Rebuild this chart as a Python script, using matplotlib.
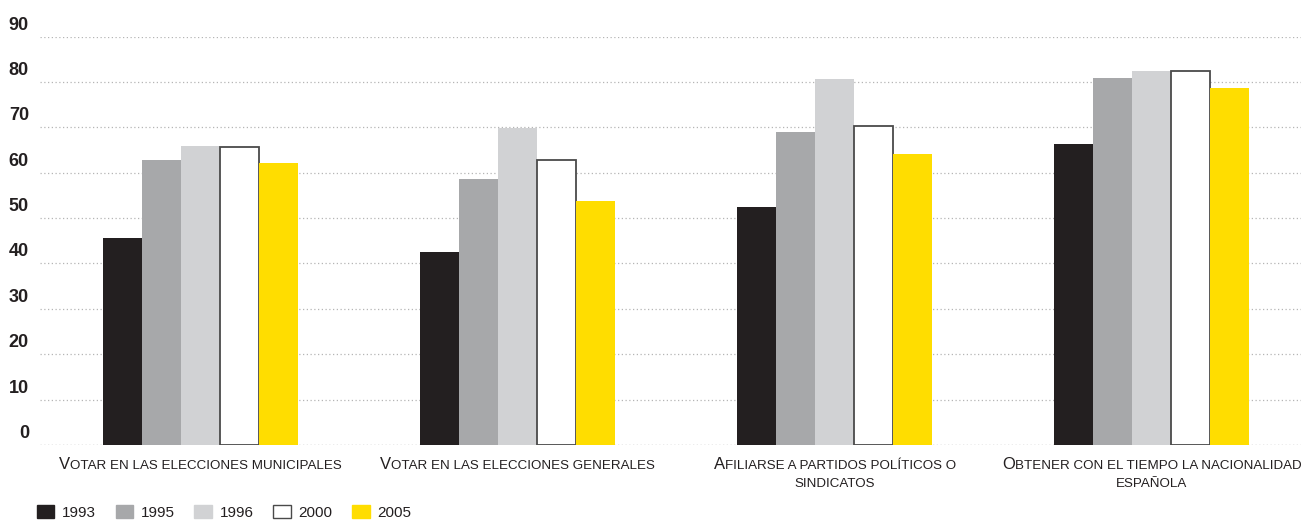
import matplotlib.pyplot as plt
from matplotlib.patches import Patch
from matplotlib.transforms import ScaledTranslation
import numpy as np

plt.rcParams['font.family'] = ['Liberation Sans', 'DejaVu Sans']

categories = [
    ["Votar en las elecciones municipales"],
    ["Votar en las elecciones generales"],
    ["Afiliarse a partidos políticos o", "sindicatos"],
    ["Obtener con el tiempo la nacionalidad", "española"],
]
years = ["1993", "1995", "1996", "2000", "2005"]
v1993 = [45.7, 42.5, 52.4, 66.3]
v1995 = [62.8, 58.6, 69.0, 80.9]
v1996 = [65.9, 69.8, 80.6, 82.4]
v2000 = [65.6, 62.8, 70.3, 82.5]
v2005 = [62.1, 53.8, 64.1, 78.7]
series = [v1993, v1995, v1996, v2000, v2005]
yticks = [0, 10, 20, 30, 40, 50, 60, 70, 80, 90]

colors = ["#231f20", "#a7a8aa", "#d1d2d4", "#ffffff", "#ffdd00"]
edges = ["none", "none", "none", "#4a4a4a", "none"]
txt = "#231f20"

W, H = 1301, 521
fig = plt.figure(figsize=(W / 100, H / 100), dpi=100)
ax = fig.add_axes([40 / W, 76 / H, 1 - 40 / W, (445 - 36.5) / H])

x = np.arange(len(categories))
bw = 0.123
for i, vals in enumerate(series):
    ax.bar(x + (i - 2) * bw, vals, width=bw, color=colors[i], edgecolor=edges[i],
           linewidth=1.3 if edges[i] != "none" else 0, zorder=3)

ax.set_xlim(-0.505, 3.47)
ax.set_ylim(0, 90)
ax.set_yticks(yticks)
ax.set_xticks([])
ax.yaxis.grid(True, color="#b5b5b5", linestyle=(0, (1, 2)), linewidth=0.9, zorder=0)
ax.set_axisbelow(True)
for s in ax.spines.values():
    s.set_visible(False)
ax.axhline(0, color="#b5b5b5", linestyle=(0, (1, 2)), linewidth=0.9, zorder=0)
ax.tick_params(axis="y", length=0, pad=8)
offset = ScaledTranslation(0, 13.5 / 100, fig.dpi_scale_trans)
for lab in ax.get_yticklabels():
    lab.set_fontweight("bold")
    lab.set_fontsize(13)
    lab.set_color(txt)
    lab.set_transform(lab.get_transform() + offset)

# small caps category labels
fig.canvas.draw()
renderer = fig.canvas.get_renderer()
big, small = 12, 9.6


def text_width(s, size):
    t = fig.text(0, 0, s, fontsize=size)
    w = t.get_window_extent(renderer).width
    t.remove()
    return w


for xi, lines in zip(x, categories):
    cx = ax.transData.transform((xi, 0))[0]
    for li, line in enumerate(lines):
        if line[0].isupper():
            runs = [(line[0], big), (line[1:].upper(), small)]
        else:
            runs = [(line.upper(), small)]
        widths = [text_width(s, sz) for s, sz in runs]
        px = cx - sum(widths) / 2
        base_y = H - 469 - li * 18
        for (s, sz), w in zip(runs, widths):
            fig.text(px / W, base_y / H, s, fontsize=sz, color=txt, va="baseline", ha="left")
            px += w

handles = [Patch(facecolor=c, edgecolor=("#4a4a4a" if c == "#ffffff" else c), linewidth=1.0)
           for c in colors]
fig.legend(handles, years, loc="upper left", bbox_to_anchor=(29 / W, 1 - 497 / H),
           ncol=5, frameon=False, fontsize=11, handlelength=1.15, handleheight=1.0,
           handletextpad=0.5, columnspacing=1.29, borderpad=0, labelcolor=txt)

fig.savefig("out.png", dpi=100)
